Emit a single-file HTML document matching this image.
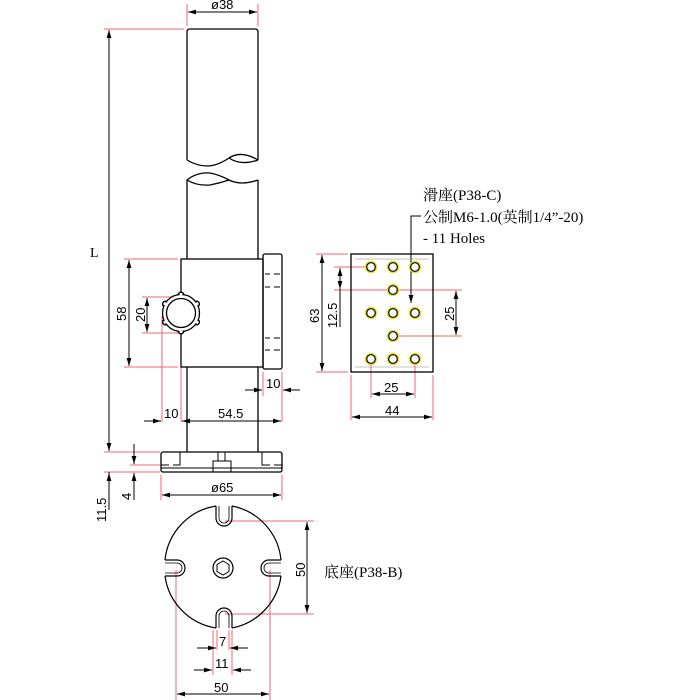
<!DOCTYPE html>
<html><head><style>body{margin:0;background:#fff}svg{display:block}</style></head><body>
<svg width="700" height="700" viewBox="0 0 700 700" xmlns="http://www.w3.org/2000/svg" font-family="Liberation Sans, sans-serif">
<defs>
<marker id="a" viewBox="0 0 10 6" refX="10" refY="3" markerWidth="8" markerHeight="5" orient="auto-start-reverse"><path d="M0,0L10,3L0,6z" fill="#000"/></marker>
</defs>
<g stroke="#f04050" stroke-width="1" fill="none" opacity="0.8">
<line x1="187" y1="4" x2="187" y2="26"/><line x1="258" y1="4" x2="258" y2="26"/>
<line x1="104" y1="29" x2="184" y2="29"/>
<line x1="124" y1="259" x2="178" y2="259"/><line x1="124" y1="367" x2="178" y2="367"/>
<line x1="142" y1="297" x2="180" y2="297"/><line x1="142" y1="333" x2="180" y2="333"/>
<line x1="162" y1="316" x2="162" y2="422"/><line x1="181" y1="330" x2="181" y2="422"/>
<line x1="282" y1="372" x2="282" y2="422"/><line x1="263" y1="372" x2="263" y2="396"/>
<line x1="104" y1="452" x2="160" y2="452"/><line x1="104" y1="472" x2="160" y2="472"/><line x1="130" y1="465" x2="160" y2="465"/>
<line x1="161" y1="475" x2="161" y2="500"/><line x1="282" y1="475" x2="282" y2="500"/>
<line x1="316" y1="254" x2="348" y2="254"/><line x1="316" y1="372" x2="348" y2="372"/>
<line x1="334" y1="267" x2="371" y2="267"/><line x1="334" y1="290" x2="462" y2="290"/>
<line x1="393" y1="336" x2="462" y2="336"/>
<line x1="351" y1="375" x2="351" y2="420"/><line x1="433" y1="375" x2="433" y2="420"/>
<line x1="371" y1="359" x2="371" y2="398"/><line x1="415" y1="359" x2="415" y2="398"/>
<line x1="225" y1="521" x2="314" y2="521"/><line x1="225" y1="614" x2="314" y2="614"/>
<line x1="176" y1="570" x2="176" y2="700"/><line x1="270" y1="570" x2="270" y2="700"/>
<line x1="213" y1="630" x2="213" y2="675"/><line x1="232" y1="630" x2="232" y2="675"/>
<line x1="217" y1="630" x2="217" y2="650"/><line x1="229" y1="630" x2="229" y2="650"/>
</g>
<g stroke="#000" stroke-width="1" fill="none">
<line x1="188" y1="12" x2="257" y2="12" marker-start="url(#a)" marker-end="url(#a)"/>
<line x1="109" y1="30" x2="109" y2="451" marker-start="url(#a)" marker-end="url(#a)"/>
<line x1="129" y1="260" x2="129" y2="366" marker-start="url(#a)" marker-end="url(#a)"/>
<line x1="147" y1="298" x2="147" y2="332" marker-start="url(#a)" marker-end="url(#a)"/>
<line x1="144" y1="421" x2="161" y2="421" marker-end="url(#a)"/>
<line x1="182" y1="421" x2="281" y2="421" marker-start="url(#a)" marker-end="url(#a)"/>
<line x1="245" y1="390" x2="262" y2="390" marker-end="url(#a)"/>
<line x1="300" y1="390" x2="283" y2="390" marker-end="url(#a)"/>
<line x1="109" y1="472" x2="109" y2="510"/><line x1="109" y1="490" x2="109" y2="473" marker-end="url(#a)"/>
<line x1="134" y1="444" x2="134" y2="464" marker-end="url(#a)"/><line x1="134" y1="500" x2="134" y2="473" marker-end="url(#a)"/>
<line x1="162" y1="495" x2="281" y2="495" marker-start="url(#a)" marker-end="url(#a)"/>
<line x1="322" y1="255" x2="322" y2="371" marker-start="url(#a)" marker-end="url(#a)"/>
<line x1="340" y1="268" x2="340" y2="289" marker-start="url(#a)" marker-end="url(#a)"/><line x1="340" y1="289" x2="340" y2="327"/>
<line x1="456" y1="291" x2="456" y2="335" marker-start="url(#a)" marker-end="url(#a)"/>
<line x1="372" y1="394" x2="414" y2="394" marker-start="url(#a)" marker-end="url(#a)"/>
<line x1="352" y1="417" x2="432" y2="417" marker-start="url(#a)" marker-end="url(#a)"/>
<line x1="307" y1="522" x2="307" y2="613" marker-start="url(#a)" marker-end="url(#a)"/>
<line x1="177" y1="694" x2="269" y2="694" marker-start="url(#a)" marker-end="url(#a)"/>
<line x1="197" y1="648" x2="216" y2="648" marker-end="url(#a)"/><line x1="248" y1="648" x2="230" y2="648" marker-end="url(#a)"/>
<line x1="194" y1="670" x2="212" y2="670" marker-end="url(#a)"/><line x1="251" y1="670" x2="233" y2="670" marker-end="url(#a)"/>
<path d="M421,216 H411 V303" marker-end="url(#a)"/>
</g>
<g stroke="#000" stroke-width="1.3" fill="none">
<path d="M187,32 Q187,29 190,29 H255 Q258,29 258,32"/>
<line x1="187" y1="32" x2="187" y2="160"/><line x1="258" y1="32" x2="258" y2="160"/>
<path d="M187,160 Q197,166 207,166 Q217,166 229,158 Q241,150 258,160"/>
<path d="M229,158 Q241,166 258,160" />
<path d="M187,180 Q197,172 210,173 Q220,175 229,180 Q241,186 258,180"/>
<path d="M187,180 Q197,186 210,185 Q220,183 229,180"/>
<line x1="187" y1="180" x2="187" y2="259"/><line x1="258" y1="180" x2="258" y2="259"/>
<rect x="181" y="259" width="82" height="108"/>
<rect x="263" y="254" width="19" height="115" rx="2"/>
<path d="M265,274 h5 M274,274 h6 M265,287 h5 M274,287 h6 M265,338 h5 M274,338 h6 M265,350 h5 M274,350 h6" stroke-width="1"/>
<line x1="187" y1="367" x2="187" y2="452"/><line x1="258" y1="367" x2="258" y2="452"/>
<g transform="translate(181,313)" fill="#fff">
<circle cx="0" cy="-18" r="2.8"/><circle cx="0" cy="18" r="2.8"/>
<circle cx="15.6" cy="-9" r="2.8"/><circle cx="-15.6" cy="-9" r="2.8"/>
<circle cx="15.6" cy="9" r="2.8"/><circle cx="-15.6" cy="9" r="2.8"/>
<circle r="18.5"/>
<circle r="17.2" stroke="none"/>
<circle cx="0" cy="-18" r="1.5" stroke="none"/><circle cx="0" cy="18" r="1.5" stroke="none"/>
<circle cx="15.6" cy="-9" r="1.5" stroke="none"/><circle cx="-15.6" cy="-9" r="1.5" stroke="none"/>
<circle cx="15.6" cy="9" r="1.5" stroke="none"/><circle cx="-15.6" cy="9" r="1.5" stroke="none"/>
<circle r="14.5"/>
</g>
<rect x="161" y="452" width="121" height="20" rx="2"/>
<path d="M161,465 h8 M173,465 h7 V452 M262,452 V465 h8 M274,465 h8" stroke-width="1"/>
<path d="M213,472 V461 h18 V472 M218,461 V452 M225,461 V452" stroke-width="1"/>
<line x1="161" y1="468" x2="282" y2="468" stroke-width="1"/>
<rect x="351" y="254" width="82" height="118"/>
<line x1="355" y1="259" x2="429" y2="259" stroke-width="0.6" stroke="#888"/>
<line x1="355" y1="367" x2="429" y2="367" stroke-width="0.6" stroke="#888"/>
</g>
<g fill="#fff" stroke="#000" stroke-width="1.2">
<g id="h"><circle cx="371" cy="267" r="5.5" stroke="#e8e000"/><circle cx="371" cy="267" r="4.3"/></g>
<use href="#h" x="22"/><use href="#h" x="44"/>
<use href="#h" x="22" y="23"/>
<use href="#h" y="46"/><use href="#h" x="22" y="46"/><use href="#h" x="44" y="46"/>
<use href="#h" x="22" y="69"/>
<use href="#h" y="92"/><use href="#h" x="22" y="92"/><use href="#h" x="44" y="92"/>
</g>
<g stroke="#000" stroke-width="1.2" fill="none">
<path d="M216,506 A61,61 0 0 0 165,560 M165,576 A61,61 0 0 0 216,628 M232,628 A61,61 0 0 0 281,576 M281,560 A61,61 0 0 0 232,506"/>
<path d="M216,506 V518 A8,8 0 0 0 232,518 V506"/>
<path d="M216,628 V616 A8,8 0 0 1 232,616 V628"/>
<path d="M165,560 H177 A8,8 0 0 1 177,576 H165"/>
<path d="M281,560 H269 A8,8 0 0 0 269,576 H281"/>
<path d="M219,506 V518 A5,5 0 0 0 229,518 V506 M219,628 V616 A5,5 0 0 1 229,616 V628 M165,563 H177 A5,5 0 0 1 177,573 H165 M281,563 H269 A5,5 0 0 0 269,573 H281" stroke-width="0.8"/>
<circle cx="223" cy="568" r="10"/>
<path d="M223,561 l6,3.5 v7 l-6,3.5 l-6,-3.5 v-7z" stroke-width="1"/>
</g>
<g font-size="13" fill="#000">
<text x="211" y="9">ø38</text>
<text x="90" y="257" font-family="Liberation Serif, serif" font-size="14">L</text>
<text transform="translate(126,321) rotate(-90)">58</text>
<text transform="translate(145,322) rotate(-90)">20</text>
<text x="164" y="418">10</text>
<text x="218" y="418">54.5</text>
<text x="266" y="388">10</text>
<text transform="translate(106,522) rotate(-90)">11.5</text>
<text transform="translate(131,500) rotate(-90)">4</text>
<text x="211" y="492">ø65</text>
<text transform="translate(319,323) rotate(-90)">63</text>
<text transform="translate(337,328) rotate(-90)">12.5</text>
<text transform="translate(454,321) rotate(-90)">25</text>
<text x="384" y="392">25</text>
<text x="385" y="415">44</text>
<text transform="translate(305,577) rotate(-90)">50</text>
<text x="219" y="646">7</text>
<text x="215" y="668">11</text>
<text x="214" y="692">50</text>
<g font-family="Liberation Serif, 'Noto Serif CJK SC', 'Noto Sans CJK TC', serif" font-size="15">
<text x="423" y="200">滑座(P38-C)</text>
<text x="423" y="222">公制M6-1.0(英制1/4”-20)</text>
<text x="423" y="243">- 11 Holes</text>
<text x="324" y="577">底座(P38-B)</text>
</g>
</g>
</svg>
</body></html>
